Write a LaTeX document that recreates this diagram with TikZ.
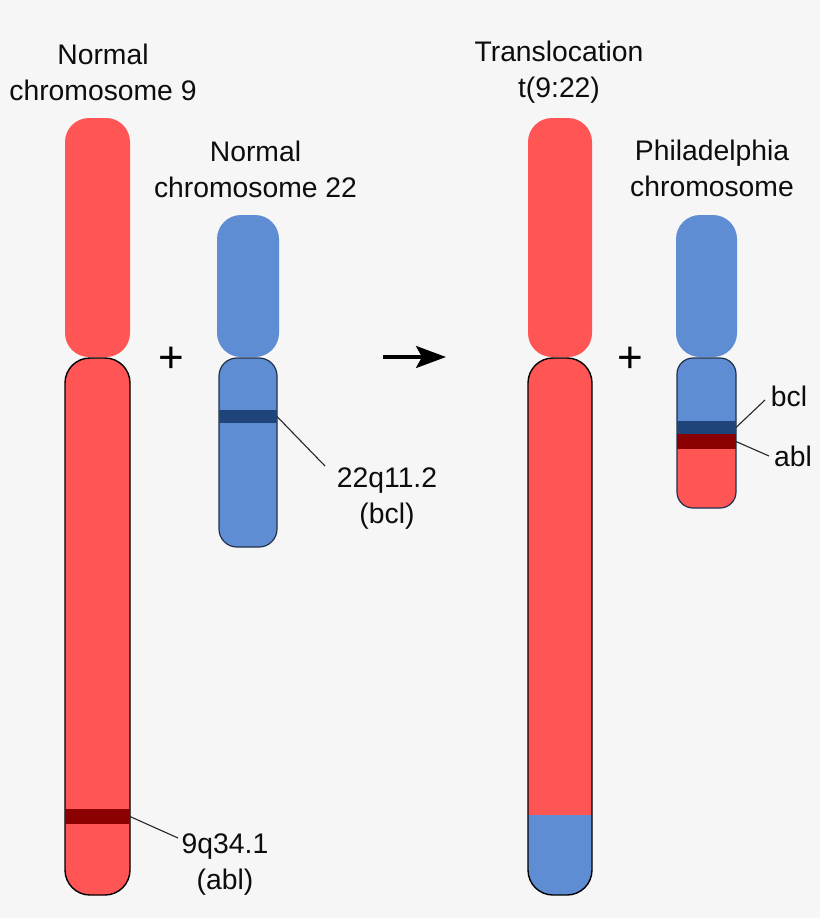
\documentclass[tikz,border=0pt]{standalone}
\usepackage{fontspec}
\setmainfont{Liberation Sans}
\usetikzlibrary{arrows.meta}
\definecolor{bgc}{HTML}{F6F6F6}
\definecolor{cred}{HTML}{FF5555}
\definecolor{cblue}{HTML}{5F8DD3}
\definecolor{dblue}{HTML}{1F447A}
\definecolor{dred}{HTML}{8B0000}
\tikzset{
  arm/.style={rectangle,inner sep=0pt,outer sep=0pt,rounded corners=#1},
  armup/.style={arm=24pt,draw=none},
  armlow/.style={arm=25pt,draw=black,line width=1.4pt},
  armsoft/.style={arm=#1,draw=black!65!cblue,line width=1.2pt},
  bandbox/.style={rectangle,inner sep=0pt,outer sep=0pt,draw=none},
  leader/.style={draw=black!85,line width=1.1pt},
  label/.style={align=center,inner sep=0pt,font=\fontsize{28.3}{36}\selectfont,text=black!95},
  plus/.style={inner sep=0pt,font=\fontsize{44}{44}\selectfont},
}
\begin{document}
\begin{tikzpicture}[x=1pt,y=-1pt]
\useasboundingbox (0,0) rectangle (820,918);
\fill[bgc] (0,0) rectangle (820,918);

% normal chromosome 9
\node[armup,fill=cred,minimum width=65pt,minimum height=239pt] (c9up) at (97.5,237.5) {};
\node[armlow,fill=cred,minimum width=65pt,minimum height=537pt] (c9low) at (97.5,626.5) {};
\node[bandbox,fill=dred,minimum width=65pt,minimum height=15pt] (b9) at (97.5,816.5) {};

% normal chromosome 22
\node[armup,fill=cblue,minimum width=62pt,minimum height=142pt] (c22up) at (248,286) {};
\node[armsoft=18pt,fill=cblue,minimum width=58pt,minimum height=189pt] (c22low) at (248,452.5) {};
\node[bandbox,fill=dblue,minimum width=58pt,minimum height=13pt] (b22) at (248,416.5) {};

% translocated chromosome
\node[armup,fill=cred,minimum width=64pt,minimum height=239pt] (tup) at (560,237.5) {};
\node[armlow,fill=cred,minimum width=64pt,minimum height=537pt,
  path picture={\fill[cblue,sharp corners] (path picture bounding box.south west) rectangle ([yshift=80pt]path picture bounding box.south east);}] (tlow) at (560,626.5) {};

% Philadelphia chromosome
\node[armup,fill=cblue,minimum width=61pt,minimum height=142pt] (pup) at (706.5,286) {};
\node[armsoft=16pt,fill=cblue,minimum width=59pt,minimum height=150pt,
  path picture={\fill[cred,sharp corners] (path picture bounding box.south west) rectangle ([yshift=59pt]path picture bounding box.south east);}] (plow) at (706.5,433) {};
\node[bandbox,fill=dblue,minimum width=59pt,minimum height=13pt] (pb) at (706.5,427.5) {};
\node[bandbox,fill=dred,minimum width=59pt,minimum height=15pt] (pa) at (706.5,441.5) {};

% labels
\node[label] (t9) at (103,72) {Normal\\chromosome 9};
\node[label] (t22) at (255.5,169) {Normal\\chromosome 22};
\node[label] (tt) at (559,72) {Translocation\\t(9:22)};
\node[label] (tp) at (712,168) {Philadelphia\\chromosome};
\node[label] (l22) at (387,498.5) {22q11.2\\(bcl)};
\node[label] (l9) at (225,864.5) {9q34.1\\(abl)};
\node[label] (lb) at (789,396) {bcl};
\node[label] (la) at (793,456) {abl};

% plus signs
\node[plus] (p1) at (171,360) {+};
\node[plus] (p2) at (630,360) {+};

% leaders
\coordinate (e22) at (325,466);
\coordinate (e9) at (178,838);
\coordinate (eb) at (765,400);
\coordinate (ea) at (769,456);
\draw[leader] (b22.east) -- (e22);
\draw[leader] (b9.east) -- (e9);
\draw[leader] (pb.east) -- (eb);
\draw[leader] (pa.east) -- (ea);

% arrow
\coordinate (as) at (383,357);
\coordinate (ae) at (446,357);
\draw[line width=3.2pt,-{Stealth[length=30pt,width=22pt,inset=6pt]}] (as) -- (ae);
\end{tikzpicture}
\end{document}
